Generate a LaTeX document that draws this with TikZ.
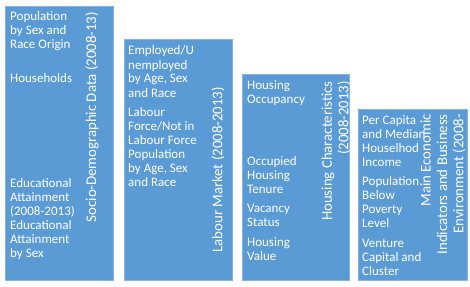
\documentclass[tikz,border=0pt]{standalone}
\usepackage{fontspec}
\setmainfont{Carlito}
\definecolor{blue1}{RGB}{91, 155, 213}
\usetikzlibrary{positioning}

\begin{document}
\begin{tikzpicture}[x=1pt, y=-1pt,
  panel/.style={draw=blue1!75!white, fill=blue1, line width=0.6pt, inner sep=0pt, anchor=north west},
  item/.style={text=white, anchor=base west, align=left, inner sep=0pt, font=\fontsize{13}{14}\selectfont},
  heading/.style={text=white, rotate=90, anchor=east, align=right, inner sep=0pt, font=\fontsize{14.8}{16.4}\selectfont}]
  \useasboundingbox (0,0) rectangle (470,286);

  % the four panels
  \node (socio) [panel, minimum width=108pt, minimum height=274pt] at (5,6) {};
  \node (labour) [panel, minimum width=108pt, minimum height=241pt] at (124,39) {};
  \node (housing) [panel, minimum width=107pt, minimum height=206pt] at (242,74) {};
  \node (economy) [panel, minimum width=109pt, minimum height=171pt] at (358,109) {};

  % socio-demographic data (items placed at the baseline of their last line)
  \node (pop) [item] at (10,49) {Population\\by Sex and\\Race Origin};
  \node (households) [item] at (10,83) {Households};
  \node (education) [item] at (10,257) {Educational\\Attainment\\(2008-2013)\\Educational\\Attainment\\by Sex};
  \node (sociotitle) [heading] at (92,12) {Socio-Demographic Data (2008-13)};

  % labour market
  \node (employed) [item] at (128,97) {Employed/U\\nemployed\\by Age, Sex\\and Race};
  \node (force) [item] at (128,186) {Labour\\Force/Not in\\Labour Force\\Population\\by Age, Sex\\and Race};
  \node (labourtitle) [heading] at (218,87) {Labour Market (2008-2013)};

  % housing characteristics
  \node (occupancy) [item] at (247,103) {Housing\\Occupancy};
  \node (tenure) [item] at (247,193) {Occupied\\Housing\\Tenure};
  \node (vacancy) [item] at (247,226) {Vacancy\\Status};
  \node (value) [item] at (247,260) {Housing\\Value};
  \node (housingtitle) [heading] at (336,81) {Housing Characteristics\\(2008-2013)};

  % economic indicators
  \node (income) [item] at (362,166) {Per Capita\\and Median\\Houselhod\\Income};
  \node (poverty) [item] at (362,227) {Population\\Below\\Poverty\\Level};
  \node (venture) [item] at (362,275) {Venture\\Capital and\\Cluster};
  \node (economytitle) [heading] at (443,114) {Main Economic\\Indicators and Business\\Environment (2008-};
\end{tikzpicture}
\end{document}
